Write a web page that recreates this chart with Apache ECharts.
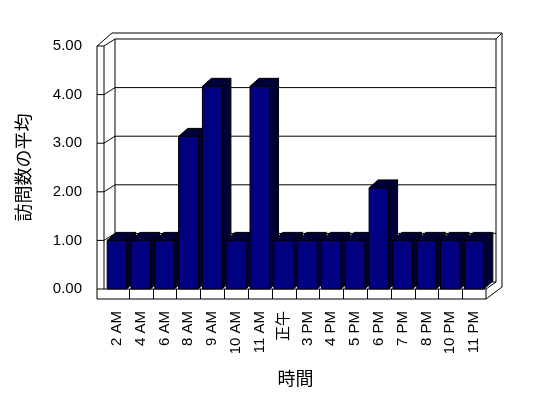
<!DOCTYPE html>
<html>
<head>
<meta charset="utf-8">
<script src="https://cdn.jsdelivr.net/npm/echarts@6/dist/echarts.min.js"></script>
<style>
html,body{margin:0;padding:0;background:#fff;}
#main{width:548px;height:398px;}
</style>
</head>
<body>
<div id="main"></div>
<script>
const categories = ['2 AM','4 AM','6 AM','8 AM','9 AM','10 AM','11 AM','正午','3 PM','4 PM','5 PM','6 PM','7 PM','8 PM','10 PM','11 PM'];
const visits = [1, 1, 1, 3.14, 4.17, 1, 4.17, 1, 1, 1, 1, 2.08, 1, 1, 1, 1];
const yTicks = [0, 1, 2, 3, 4, 5];
const yTitle = '訪問数の平均';
const xTitle = '時間';

const FONT = '"Liberation Sans", "Noto Sans CJK JP", sans-serif';
const CJK = '"Noto Sans CJK JP", sans-serif';
const SIDE = '#000036';

const BDX = 10, BDY = -7;   // back wall depth offset
const LW = 8;               // left wall thickness
const FL = 10;              // floor thickness
const BARDX = 9, BARDY = -8; // bar depth offset

function line(pts) {
  return {type: 'polyline', shape: {points: pts}, style: {stroke: '#000', lineWidth: 1, fill: null}, silent: true};
}

function renderFrame(params, api) {
  const n = categories.length;
  const bw = api.size([1, 0])[0];
  const xL = api.coord([0, 0])[0] - bw / 2;
  const xR = api.coord([n - 1, 0])[0] + bw / 2;
  const yOf = v => api.coord([0, v])[1];
  const y0 = yOf(yTicks[0]);
  const yT = yOf(yTicks[yTicks.length - 1]);
  const LWo = xL - LW, LWi = xL - 1;
  const children = [];
  children.push({type: 'polygon', shape: {points: [[LWo, yT], [LWo + 15, yT - 13], [xR + 16, yT - 13], [xR + 16, y0 - 2], [xR, y0 + FL], [LWo, y0 + FL]]},
    style: {fill: '#fff', stroke: null}, silent: true});
  children.push(line([[LWo, yT], [LWo + 15, yT - 13], [xR + 16, yT - 13], [xR + 16, y0 - 2], [xR, y0 + FL]]));
  children.push(line([[LWi, yT], [xL + BDX, yT + BDY], [xR + BDX, yT + BDY], [xR + BDX, y0 + BDY]]));
  children.push(line([[xR + BDX, yT + BDY], [xR + 16, yT - 13]]));
  children.push(line([[xL + BDX, yT + BDY], [xL + BDX, y0 + BDY]]));
  children.push(line([[LWo, yT], [LWi, yT]]));
  children.push(line([[LWo, yT], [LWo, y0 + FL]]));
  children.push(line([[LWi, yT], [LWi, y0]]));
  for (let i = 1; i < yTicks.length - 1; i++) {
    const y = yOf(yTicks[i]);
    children.push(line([[LWo, y], [LWi, y], [xL + BDX, y + BDY], [xR + BDX, y + BDY]]));
  }
  children.push(line([[xL + BDX, y0 + BDY], [xR + BDX, y0 + BDY]]));
  children.push(line([[LWo, y0], [xR, y0], [xR + BDX, y0 + BDY]]));
  children.push(line([[LWo, y0 + FL], [xR, y0 + FL]]));
  children.push(line([[xR, y0], [xR, y0 + FL]]));
  for (let k = 1; k < n; k++) {
    const x = Math.round(xL + k * bw) + 0.5;
    children.push(line([[x, y0], [x, y0 + FL]]));
  }
  return {type: 'group', children: children};
}

function renderBar(params, api) {
  const idx = api.value(0);
  const top = api.coord([idx, api.value(1)]);
  const base = api.coord([idx, 0]);
  const w = api.size([1, 0])[0] * 0.82;
  const xl = top[0] - w / 2, xr = top[0] + w / 2;
  const yt = top[1], yb = base[1];
  return {type: 'group', children: [
    {type: 'polygon', shape: {points: [[xr, yt], [xr + BARDX, yt + BARDY], [xr + BARDX, yb + BARDY], [xr, yb]]},
      style: {fill: SIDE, stroke: '#000', lineWidth: 1}},
    {type: 'polygon', shape: {points: [[xl, yt], [xl + BARDX, yt + BARDY], [xr + BARDX, yt + BARDY], [xr, yt]]},
      style: {fill: SIDE, stroke: '#000', lineWidth: 1}},
    {type: 'rect', shape: {x: xl, y: yt, width: w, height: yb - yt},
      style: {fill: '#000080', stroke: '#000', lineWidth: 1}}
  ]};
}

const chart = echarts.init(document.getElementById('main'), null, {renderer: 'canvas'});
chart.setOption({
  backgroundColor: '#fff',
  animation: false,
  textStyle: {fontFamily: FONT},
  grid: {left: 105, right: 62, top: 46, bottom: 109, containLabel: false},
  xAxis: {
    type: 'category', data: categories, boundaryGap: true,
    axisLine: {show: false}, axisTick: {show: false}, splitLine: {show: false},
    axisLabel: {rotate: 90, margin: 22, fontSize: 15, color: '#000', fontFamily: FONT, interval: 0},
    name: xTitle, nameLocation: 'middle', nameGap: 80,
    nameTextStyle: {fontSize: 18, color: '#000', fontFamily: CJK}
  },
  yAxis: {
    type: 'value', min: yTicks[0], max: yTicks[yTicks.length - 1], interval: 1,
    axisLine: {show: false}, axisTick: {show: false}, splitLine: {show: false},
    axisLabel: {margin: 23, fontSize: 15, color: '#000', fontFamily: FONT, formatter: v => v.toFixed(2)},
    name: yTitle, nameLocation: 'middle', nameGap: 73, nameRotate: 90,
    nameTextStyle: {fontSize: 18, color: '#000', fontFamily: CJK}
  },
  series: [
    {type: 'custom', z: 1, clip: false, silent: true, renderItem: renderFrame, data: [[0, 0]]},
    {type: 'custom', z: 2, clip: false, renderItem: renderBar, encode: {x: 0, y: 1},
      data: visits.map((v, i) => [i, v])}
  ]
});
</script>
</body>
</html>
